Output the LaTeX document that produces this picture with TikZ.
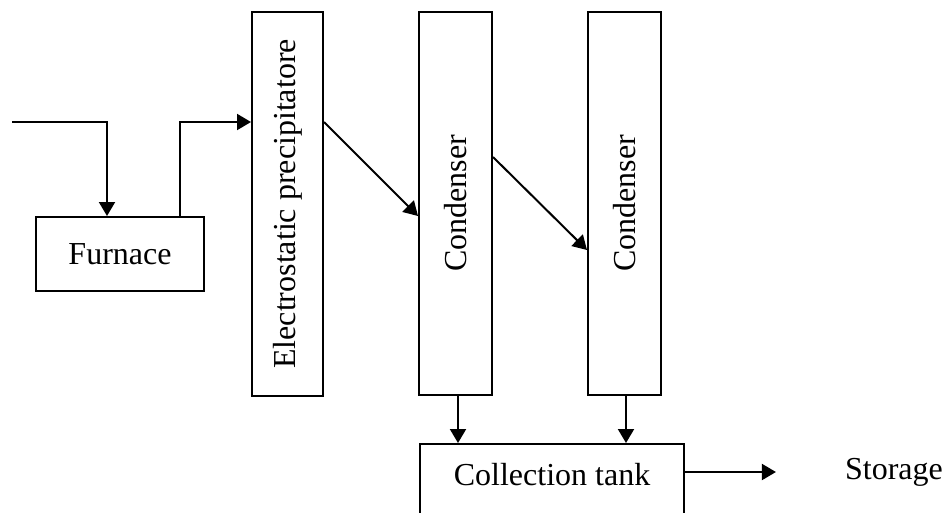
\documentclass[tikz,border=0pt]{standalone}
\usepackage{fontspec}
\setmainfont{Liberation Serif}
\usetikzlibrary{arrows.meta}
\begin{document}
\begin{tikzpicture}[x=1pt,y=-1pt,
  every node/.style={font=\fontsize{32}{38}\selectfont},
  box/.style={draw, line width=2pt, inner sep=0pt},
  rlab/.style={rotate=90, font=\fontsize{32}{38}\selectfont},
  arr/.style={line width=2pt, -{Triangle[length=14pt,width=16pt]}}]
\useasboundingbox (0,0) rectangle (949,512);
\clip (0,0) rectangle (949,512);
\node[box, minimum width=168pt, minimum height=74pt] (f) at (120,254) {Furnace};
\node[box, minimum width=71pt, minimum height=384pt,
  label={[rlab]center:Electrostatic precipitatore}] (ep) at (287.5,204) {};
\node[box, minimum width=73pt, minimum height=383pt,
  label={[rlab]center:Condenser}] (c1) at (455.5,203.5) {};
\node[box, minimum width=73pt, minimum height=383pt,
  label={[rlab]center:Condenser}] (c2) at (624.5,203.5) {};
\node[box, minimum width=264pt, minimum height=90pt] (tank) at (552,489) {};
\node (tanktxt) at (552,475) {Collection tank};
\node[inner sep=0pt] (st) at (894,472) {Storage};
\coordinate (in) at (12,122);
\draw[arr] (in) -| ([xshift=-13pt]f.north);
\draw[arr] ([xshift=60pt]f.north) |- (ep.west |- in);
\draw[arr] (ep.east |- in) -- ([yshift=-12.5pt]c1.west);
\draw[arr] ([yshift=46.5pt]c1.east) -- ([yshift=-46.5pt]c2.west);
\draw[arr] ([xshift=2.5pt]c1.south) -- ([xshift=2.5pt]c1.south |- tank.north);
\draw[arr] ([xshift=1.5pt]c2.south) -- ([xshift=1.5pt]c2.south |- tank.north);
\coordinate (stend) at ([xshift=-69pt]st.west);
\draw[arr] (tank.east |- tanktxt) ++(0,-3) -- (stend);
\end{tikzpicture}
\end{document}
